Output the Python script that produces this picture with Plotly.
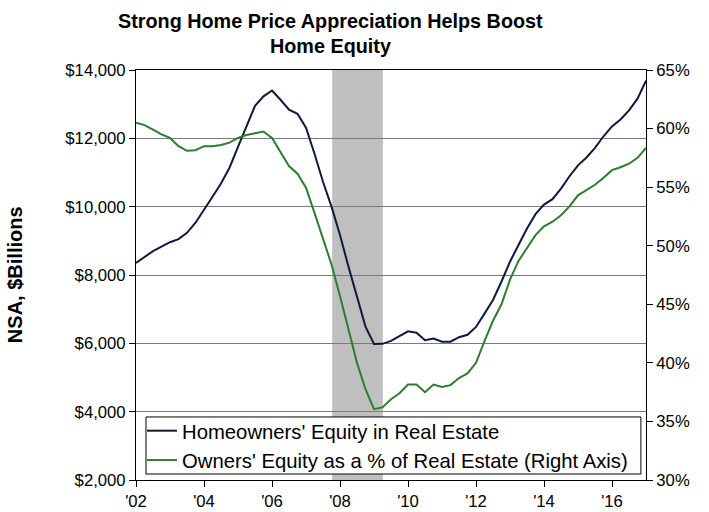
import plotly.graph_objects as go

# Quarterly data, 2002Q1 .. 2017Q1
start_year = 2002
quarters_per_year = 4

homeowners_equity = [
    8350, 8530, 8700, 8830, 8960, 9050, 9235, 9530, 9900, 10290,
    10680, 11140, 11750, 12350, 12950, 13230, 13400, 13130, 12840, 12720,
    12310, 11550, 10730, 10000, 9170, 8240, 7370, 6490, 5980, 5985,
    6070, 6210, 6350, 6310, 6090, 6140, 6050, 6050, 6180, 6250,
    6480, 6870, 7270, 7810, 8390, 8880, 9360, 9780, 10060, 10220,
    10530, 10890, 11210, 11440, 11720, 12060, 12350, 12550, 12820, 13160,
    13690,
]

equity_pct = [
    60.5, 60.3, 59.9, 59.5, 59.2, 58.5, 58.1, 58.15, 58.5, 58.5,
    58.6, 58.8, 59.2, 59.45, 59.6, 59.75, 59.2, 58.05, 56.8, 56.15,
    54.95, 52.8, 50.5, 48.4, 45.7, 42.85, 40.0, 37.75, 36.05, 36.2,
    36.9, 37.4, 38.15, 38.15, 37.5, 38.15, 37.95, 38.1, 38.7, 39.1,
    40.0, 41.85, 43.6, 45.0, 47.1, 48.7, 49.8, 50.9, 51.65, 52.05,
    52.6, 53.35, 54.3, 54.75, 55.2, 55.8, 56.45, 56.7, 57.0, 57.5,
    58.35,
]

dates = [start_year + i / quarters_per_year for i in range(len(homeowners_equity))]

tick_years = [2002, 2004, 2006, 2008, 2010, 2012, 2014, 2016]
tick_labels = ["'02", "'04", "'06", "'08", "'10", "'12", "'14", "'16"]

title_lines = ["Strong Home Price Appreciation Helps Boost", "Home Equity"]

recession_start = 2007.77
recession_end = 2009.26

FONT = "Arial, Liberation Sans, sans-serif"
NAVY = "#0d1a3b"
GREEN = "#2e7d2e"
TICK_SIZE = 16.7

fig = go.Figure()
fig.add_trace(go.Scatter(
    x=dates, y=homeowners_equity, mode="lines",
    name="Homeowners' Equity in Real Estate",
    line=dict(color=NAVY, width=2),
))
fig.add_trace(go.Scatter(
    x=dates, y=equity_pct, mode="lines",
    name="Owners' Equity as a % of Real Estate (Right Axis)",
    line=dict(color=GREEN, width=2),
    yaxis="y2",
))

# recession shading
fig.add_shape(type="rect", xref="x", yref="paper",
              x0=recession_start, x1=recession_end, y0=0, y1=1,
              fillcolor="#bfbfbf", line=dict(width=0), layer="below")
# legend frame (white box with black border)
fig.add_shape(type="rect", xref="paper", yref="paper",
              x0=0.0196, x1=0.990, y0=0.0146, y1=0.1537,
              fillcolor="white", line=dict(color="black", width=1),
              layer="above")

annotations = [
    dict(text="<b>NSA, $Billions</b>", textangle=-90,
         xref="paper", yref="paper", x=-0.237, y=0.5,
         xanchor="center", yanchor="middle", showarrow=False,
         font=dict(size=20, family=FONT, color="black")),
    dict(text="<b>%s</b>" % title_lines[0],
         xref="paper", yref="paper", x=0.3804, y=1.1195,
         xanchor="center", yanchor="middle", showarrow=False,
         font=dict(size=19.8, family=FONT, color="black")),
    dict(text="<b>%s</b>" % title_lines[1],
         xref="paper", yref="paper", x=0.3804, y=1.0585,
         xanchor="center", yanchor="middle", showarrow=False,
         font=dict(size=19.8, family=FONT, color="black")),
]

fig.update_layout(
    width=709, height=512,
    margin=dict(l=136, r=63, t=70, b=32, autoexpand=False),
    paper_bgcolor="white", plot_bgcolor="white",
    font=dict(family=FONT, size=TICK_SIZE, color="black"),
    xaxis=dict(
        range=[2002, 2017], tickvals=tick_years, ticktext=tick_labels,
        showgrid=False, ticks="outside", ticklen=6, tickcolor="black",
        showline=True, linecolor="black", linewidth=1, mirror=True,
        zeroline=False, tickfont=dict(size=TICK_SIZE), automargin=False,
    ),
    yaxis=dict(
        range=[2000, 14000], dtick=2000, tickprefix="$", tickformat=",",
        showgrid=True, gridcolor="#7a7a7a", gridwidth=1,
        ticks="outside", ticklen=6, tickcolor="black",
        showline=True, linecolor="black", linewidth=1,
        zeroline=False, tickfont=dict(size=TICK_SIZE), automargin=False,
    ),
    yaxis2=dict(
        range=[30, 65], dtick=5, ticksuffix="%", overlaying="y", side="right",
        showgrid=False, ticks="outside", ticklen=6, tickcolor="black",
        showline=True, linecolor="black", linewidth=1,
        zeroline=False, tickfont=dict(size=TICK_SIZE), automargin=False,
    ),
    showlegend=True,
    legend=dict(
        x=0.0118, y=0.1683, xanchor="left", yanchor="top",
        bgcolor="rgba(0,0,0,0)", borderwidth=0,
        font=dict(size=20.3, family=FONT), tracegroupgap=0,
        itemwidth=30,
    ),
    annotations=annotations,
)

fig.write_html(
    "out.html",
    config={"displayModeBar": False},
    post_script="document.body.style.margin='0px';document.body.style.padding='0px';",
)
